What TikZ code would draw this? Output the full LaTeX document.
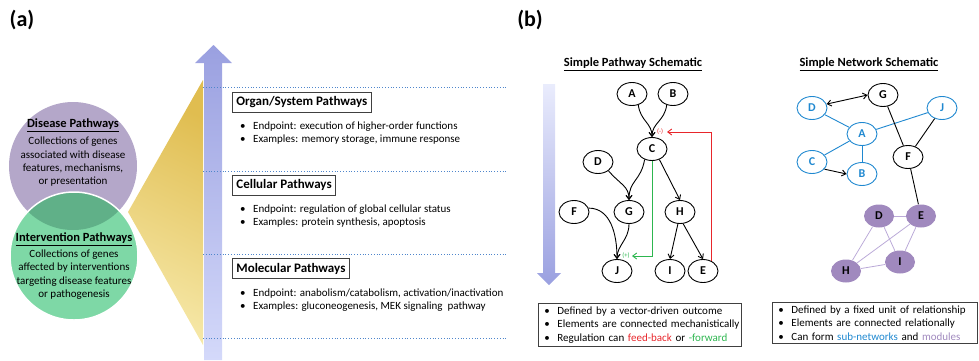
\documentclass[tikz,border=0pt]{standalone}
\usepackage{fontspec}
\setmainfont{Carlito}
\usetikzlibrary{shapes.geometric,arrows.meta}
\definecolor{dpurple}{HTML}{B4A7C9}
\definecolor{igreen}{HTML}{7ED8A6}
\definecolor{lens}{HTML}{60B088}
\definecolor{gold1}{HTML}{E0BD50}
\definecolor{gold2}{HTML}{F6E8A8}
\definecolor{arr1}{HTML}{9AA0E0}
\definecolor{arr2}{HTML}{D4D9FA}
\definecolor{dotblue}{HTML}{4F86CC}
\definecolor{nblue}{HTML}{1F88D0}
\definecolor{npurple}{HTML}{A089BE}
\definecolor{epurple}{HTML}{BBAAD8}
\definecolor{fred}{HTML}{E8262B}
\definecolor{fgreen}{HTML}{2DB64F}
\definecolor{boxgray}{HTML}{404040}
\newcommand{\bitem}[1]{\mbox{\makebox[13pt][l]{\textbullet}#1}}
\begin{document}
\begin{tikzpicture}[x=1pt,y=-1pt,
  nd/.style={ellipse, draw, line width=0.9pt, minimum width=30pt, minimum height=23pt, inner sep=0pt, font=\fontsize{12}{14}\selectfont\bfseries},
  bnd/.style={nd, draw=nblue, text=nblue},
  pnd/.style={nd, draw=none, fill=npurple},
  tip/.style={-{Straight Barb[length=4pt,width=6pt]}},
  edge/.style={line width=0.9pt, tip},
  bline/.style={line width=0.9pt, nblue},
  kline/.style={line width=0.9pt, black},
  pline/.style={line width=0.8pt, epurple},
  lbl/.style={inner sep=0pt, font=\fontsize{6.5}{7}\selectfont},
  ctitle/.style={inner sep=0pt, font=\fontsize{12.5}{14}\selectfont\bfseries},
  ctext/.style={inner sep=0pt, align=center, font=\fontsize{11}{13.3}\selectfont},
  hbox/.style={anchor=west, draw=boxgray, line width=0.8pt, inner xsep=4pt, minimum height=20pt, font=\fontsize{13}{15}\selectfont\bfseries},
  lst/.style={anchor=west, align=left, inner sep=0pt, font=\fontsize{11}{13}\selectfont},
  lbox/.style={anchor=north west, draw=boxgray, line width=0.8pt, align=left, inner xsep=6pt, inner ysep=3pt, font=\fontsize{11}{13.5}\selectfont},
  btitle/.style={inner sep=0pt, font=\fontsize{12.5}{14}\selectfont\bfseries},
  plabel/.style={inner sep=0pt, font=\fontsize{22}{24}\selectfont\bfseries}
]
\useasboundingbox (0,0) rectangle (979,360);

% panel labels
\node[plabel] (la) at (22,20) {(a)};
\node[plabel] (lb) at (530,20) {(b)};

% ---------- panel (a) ----------
\fill[dpurple] (73,166) circle (64pt);
\fill[igreen] (74,256) circle (64pt);
\begin{scope}
  \clip (73,166) circle (64pt);
  \fill[lens] (74,256) circle (64pt);
\end{scope}
\draw[white, line width=1.5pt] (74,256) circle (64pt);

\node[ctitle] (dpt) at (73,125) {\underline{Disease Pathways}};
\node[ctext] (dpx) at (73,162) {Collections of genes\\associated with disease\\features, mechanisms,\\or presentation};
\node[ctitle] (ipt) at (74,239) {\underline{Intervention Pathways}};
\node[ctext] (ipx) at (74,274.5) {Collections of genes\\affected by interventions\\targeting disease features\\or pathogenesis};

% gold triangle
\shade[top color=gold1, bottom color=gold2, shading angle=-25] (128,212) -- (203,80) -- (203,345) -- cycle;

% up arrow
\shade[top color=arr1, bottom color=arr2] (204,360) -- (204,63) -- (195,63) -- (213.5,45) -- (232,63) -- (222,63) -- (222,360) -- cycle;

% dotted separators
\foreach \yy in {87,171,254,338}
  \draw[dotblue, dotted, line width=0.8pt] (203,\yy) -- (508,\yy);

% level boxes and lists
\node[hbox] (h1) at (232,102) {Organ/System Pathways};
\node[lst] (l1) at (240,133.5) {\bitem{Endpoint: execution of higher-order functions}\\\bitem{Examples: memory storage, immune response}};
\node[hbox] (h2) at (232,185) {Cellular Pathways};
\node[lst] (l2) at (240,216.5) {\bitem{Endpoint: regulation of global cellular status}\\\bitem{Examples: protein synthesis, apoptosis}};
\node[hbox] (h3) at (232,268.5) {Molecular Pathways};
\node[lst] (l3) at (240,300.5) {\bitem{Endpoint: anabolism/catabolism, activation/inactivation}\\\bitem{Examples: gluconeogenesis, MEK signaling\ \ pathway}};

% ---------- panel (b) ----------
\node[btitle] (pt) at (633,64) {\underline{Simple Pathway Schematic}};
\node[btitle] (nt) at (869,64) {\underline{Simple Network Schematic}};

\shade[top color=arr2!50!white, bottom color=arr1] (543,84) -- (543,273) -- (537,273) -- (549,285) -- (561,273) -- (555,273) -- (555,84) -- cycle;

% pathway nodes
\node[nd] (pA) at (632,94) {A};
\node[nd] (pB) at (673,94) {B};
\node[nd] (pC) at (652,149) {C};
\node[nd] (pD) at (598,162) {D};
\node[nd] (pF) at (574,212) {F};
\node[nd] (pG) at (629,212) {G};
\node[nd] (pH) at (680,212) {H};
\node[nd] (pJ) at (617,271) {J};
\node[nd] (pI) at (670,271) {I};
\node[nd] (pE) at (703,271) {E};

\draw[edge] (pA.-60) .. controls +(2,16) and +(0,-14) .. (pC.north);
\draw[edge] (pB.-120) .. controls +(-2,16) and +(0,-14) .. (pC.north);
\draw[edge] (pC.235) .. controls +(-4,22) and +(0,-20) .. (pG.north);
\draw[edge] (pD.-40) .. controls +(12,14) and +(0,-14) .. (pG.north);
\draw[edge] (pG.south) .. controls +(0,16) and +(0,-14) .. (pJ.north);
\draw[edge] (pF.15) .. controls +(22,0) and +(0,-25) .. (pJ.north);
\draw[edge] (pC.-55) -- (pH.north);
\draw[edge] (pH.-100) -- (pI.north);
\draw[edge] (pH.-75) -- (pE.north);

\coordinate (fbk) at (667,132);
\draw[fred, line width=0.9pt, tip] (pE.50) |- (fbk);
\node[lbl, text=fred] (fbl) at (660,132) {(-)};
\coordinate (ffw) at (632,256);
\draw[fgreen, line width=0.9pt, tip] (pC.south) |- (ffw);
\node[lbl, text=fgreen] (ffl) at (626,256) {(+)};

% network nodes
\node[nd] (nG) at (883,95) {G};
\node[bnd] (nD) at (812,108) {D};
\node[bnd] (nJ) at (942,108) {J};
\node[bnd] (nA) at (862,134) {A};
\node[bnd] (nC) at (812,162) {C};
\node[bnd] (nB) at (862,174) {B};
\node[nd] (nF) at (908,157) {F};
\node[pnd] (mD) at (879,216) {D};
\node[pnd] (mE) at (921,216) {E};
\node[pnd] (mI) at (900,262) {I};
\node[pnd] (mH) at (846,271) {H};

\draw[bline] (nD) -- (nA);
\draw[bline] (nA) -- (nJ);
\draw[bline] (nA) -- (nC);
\draw[bline] (nA) -- (nB);
\draw[kline] (nG) -- (nF);
\draw[kline] (nJ) -- (nF);
\draw[kline] (nF) -- (mE);
\draw[line width=0.9pt, {Straight Barb[length=4pt,width=6pt]}-{Straight Barb[length=4pt,width=6pt]}] (nD.15) -- (nG.west);
\draw[edge] (nC.-30) -- (nB.west);
\draw[pline] (mD) -- (mE);
\draw[pline] (mD) -- (mH);
\draw[pline] (mD) -- (mI);
\draw[pline] (mE) -- (mH);
\draw[pline] (mE) -- (mI);
\draw[pline] (mH) -- (mI);

% bottom boxes
\node[lbox, text width=191pt] (pbox) at (538,303) {\bitem{Defined by a vector-driven outcome}\\\bitem{Elements are connected mechanistically}\\\bitem{Regulation can \textcolor{fred}{feed-back} or \textcolor{fgreen}{-forward}}};
\node[lbox, text width=193pt] (nbox) at (772,302) {\bitem{Defined by a fixed unit of relationship}\\\bitem{Elements are connected relationally}\\\bitem{Can form \textcolor{nblue}{sub-networks} and \textcolor{npurple}{modules}}};
\end{tikzpicture}
\end{document}
